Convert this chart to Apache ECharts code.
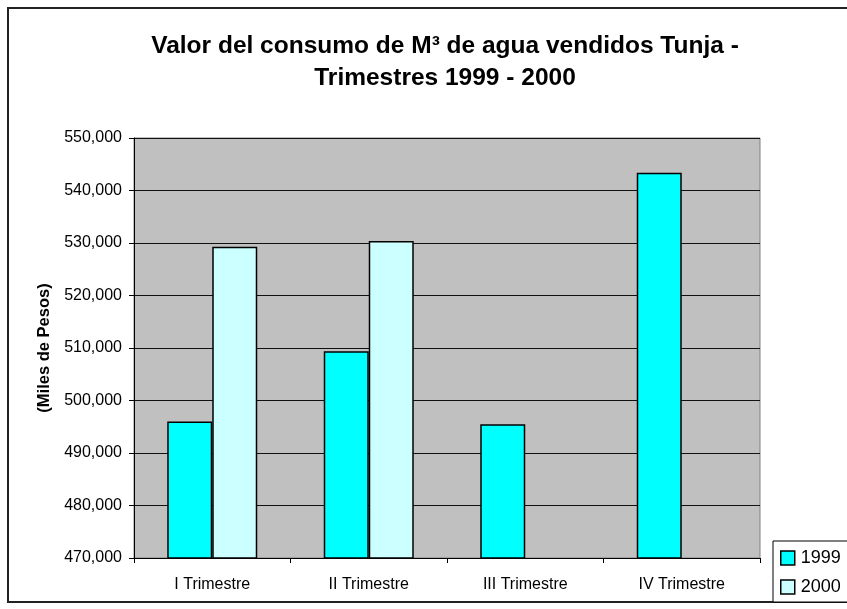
<!DOCTYPE html>
<html>
<head>
<meta charset="utf-8">
<script src="https://cdn.jsdelivr.net/npm/echarts@6/dist/echarts.min.js"></script>
<style>html,body{margin:0;padding:0;background:#fff}#c{width:847px;height:609px}</style>
</head>
<body>
<div id="c"></div>
<script>
var categories = ['I Trimestre', 'II Trimestre', 'III Trimestre', 'IV Trimestre'];
var values1999 = [496000, 509400, 495500, 543400];
var values2000 = [529300, 530400, null, null];
var seriesNames = ['1999', '2000'];
var titleText = 'Valor del consumo de M³ de agua vendidos Tunja -\nTrimestres 1999 - 2000';
var yAxisName = '(Miles de Pesos)';

var chart = echarts.init(document.getElementById('c'));
var font = 'Arial, "Liberation Sans", sans-serif';
chart.setOption({
  animation: false,
  backgroundColor: '#fff',
  graphic: [{
    type: 'rect', shape: {x: 8, y: 8, width: 860, height: 594},
    style: {fill: 'none', stroke: '#222', lineWidth: 2}, z: -1
  }],
  title: {
    text: titleText, left: 440, top: 25, textAlign: 'center',
    textStyle: {fontFamily: font, fontWeight: 'bold', fontSize: 24.5, lineHeight: 32, color: '#000'}
  },
  grid: {left: 134, top: 138, width: 626, height: 420, show: true,
    backgroundColor: '#C0C0C0', borderColor: '#808080', borderWidth: 1, containLabel: false},
  legend: {
    data: seriesNames, orient: 'vertical', left: 773, top: 541,
    backgroundColor: '#fff', borderColor: '#000', borderWidth: 1,
    padding: [8, 30, 6, 7], itemWidth: 14, itemHeight: 14, itemGap: 11, icon: 'rect',
    itemStyle: {borderColor: '#000', borderWidth: 1.5},
    textStyle: {fontFamily: font, fontSize: 18, lineHeight: 18, color: '#000', padding: [0, 0, 0, 1]}
  },
  xAxis: {
    type: 'category', data: categories,
    axisLine: {lineStyle: {color: '#000', width: 1}},
    axisTick: {show: true, length: 5, alignWithLabel: false, lineStyle: {color: '#000'}},
    axisLabel: {fontFamily: font, fontSize: 16, color: '#000', margin: 19}
  },
  yAxis: {
    type: 'value', min: 470000, max: 550000, interval: 10000,
    name: yAxisName, nameLocation: 'middle', nameGap: 81,
    nameTextStyle: {fontFamily: font, fontWeight: 'bold', fontSize: 16.5, color: '#000'},
    axisLine: {show: true, lineStyle: {color: '#000', width: 1}},
    axisTick: {show: true, length: 5, lineStyle: {color: '#000'}},
    axisLabel: {fontFamily: font, fontSize: 16, color: '#000', margin: 12,
      formatter: function (v) { return v.toLocaleString('en-US'); }},
    splitLine: {show: true, lineStyle: {color: '#111', width: 1}}
  },
  series: [
    {name: seriesNames[0], type: 'bar', data: values1999, barWidth: 45, barGap: '0%',
      itemStyle: {color: '#00FFFF', borderColor: '#000', borderWidth: 1.5}},
    {name: seriesNames[1], type: 'bar', data: values2000, barWidth: 45, barGap: '0%',
      itemStyle: {color: '#CCFFFF', borderColor: '#000', borderWidth: 1.5}}
  ]
});
</script>
</body>
</html>
